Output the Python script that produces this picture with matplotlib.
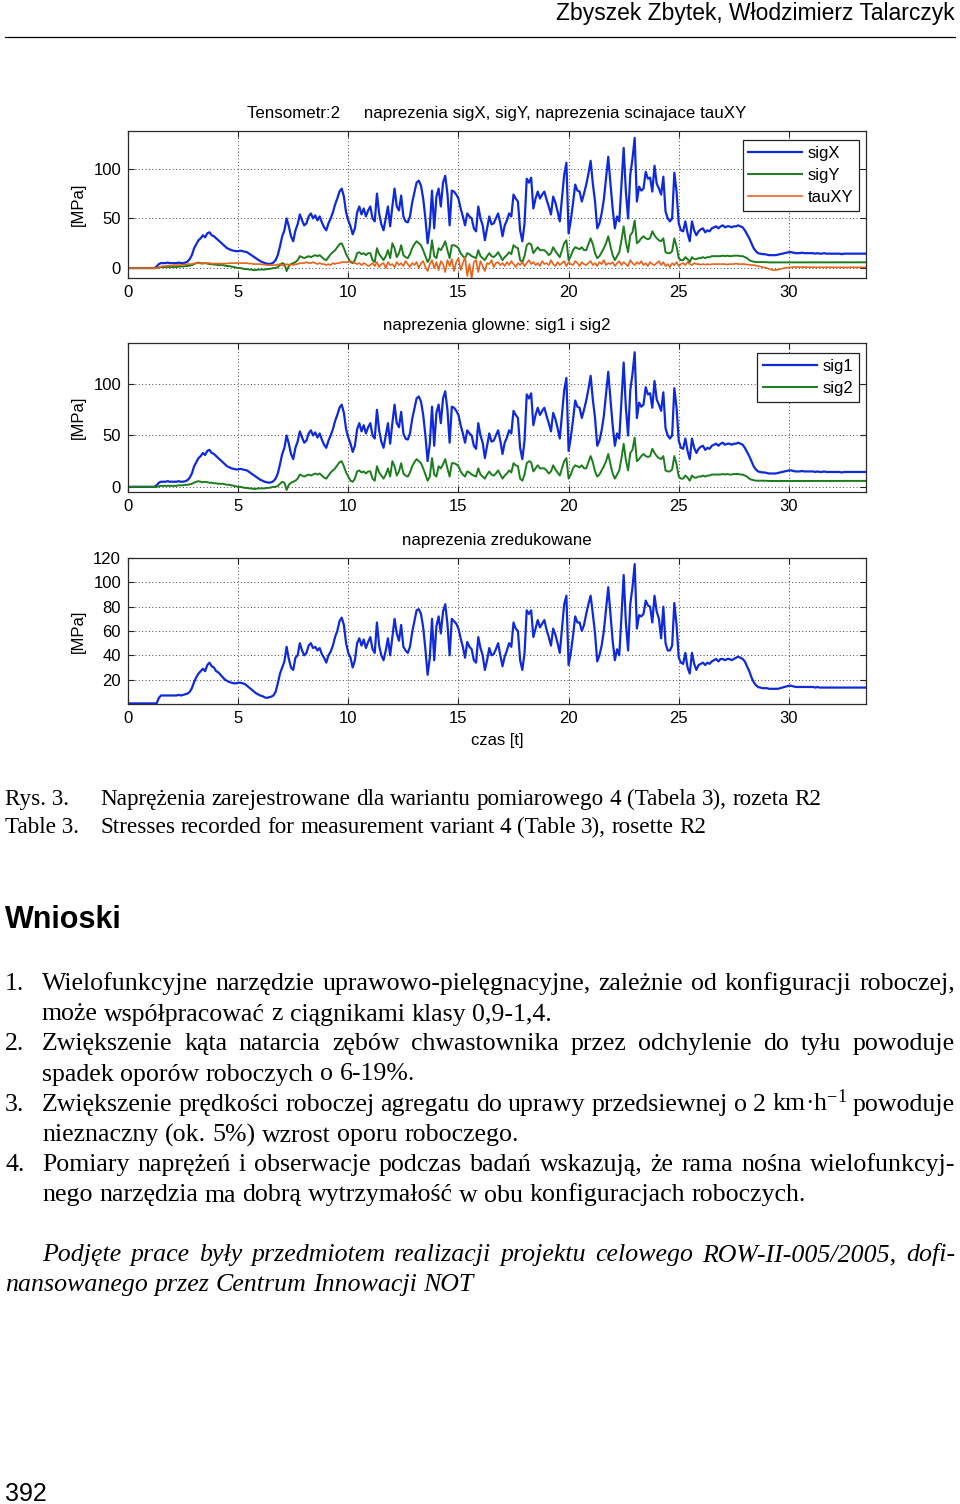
import numpy as np
import matplotlib
matplotlib.use('Agg')
import matplotlib.pyplot as plt
from matplotlib.lines import Line2D

# ---------------- data (0.1 s sampling) ----------------
dt = 0.1
xticks = [0, 5, 10, 15, 20, 25, 30]

sigX = [
    0, 0, 0, 0, 0, 0, 0, 0, 0, 0,
    0, 0, 0, 1.5, 4, 5, 5, 5, 5.5, 5,
    5, 5, 5, 5.5, 5, 5, 5.5, 6.5, 9, 13,
    20, 24, 28, 30, 33, 31, 35, 36, 33, 32,
    30, 28, 26, 24, 22, 20, 19, 18, 17.5, 17,
    17, 17.5, 17, 16.5, 16, 14.5, 13, 11.5, 10, 8.5,
    7, 6, 5, 4.5, 4, 4.5, 5.5, 8, 13, 22,
    32, 38, 50, 42, 32, 27, 38, 44, 54, 48,
    43, 45, 52, 55, 50, 53, 48, 52, 46, 41,
    38, 45, 50, 56, 64, 70, 77, 80, 72, 56,
    48, 42, 34, 40, 56, 62, 54, 60, 52, 58,
    62, 50, 47, 75, 55, 44, 38, 50, 62, 42,
    62, 80, 62, 58, 73, 52, 47, 46, 52, 66,
    76, 86, 88, 83, 70, 50, 25, 42, 78, 40,
    72, 80, 62, 86, 93, 75, 43, 78, 77, 74,
    70, 60, 52, 43, 55, 52, 50, 40, 37, 62,
    50, 43, 28, 40, 52, 44, 45, 50, 55, 45,
    32, 43, 48, 55, 52, 74, 70, 67, 38, 27,
    45, 90, 86, 91, 60, 70, 77, 70, 74, 77,
    69, 62, 54, 72, 66, 57, 47, 70, 94, 106,
    35, 48, 65, 84, 78, 77, 67, 75, 84, 95,
    108, 85, 67, 40, 45, 55, 69, 90, 112, 85,
    60, 40, 52, 47, 84, 121, 77, 50, 94, 110,
    131, 67, 82, 78, 80, 97, 90, 91, 77, 103,
    85, 80, 74, 92, 57, 50, 47, 50, 96, 77,
    45, 38, 37, 47, 35, 27, 47, 38, 33, 37,
    39, 40, 36, 38, 37, 40, 41, 42, 40, 42,
    43, 41, 42, 42, 41, 42, 42, 43, 42, 41,
    38, 34, 30, 25, 20, 17, 15, 14.5, 14, 14,
    13.5, 13, 13, 13, 13, 13.5, 14, 14.5, 15, 15.5,
    16, 16, 15.5, 15, 15, 15, 15.5, 15, 15, 15,
    15, 15, 14.5, 15, 14.5, 14.5, 15, 14.5, 14.5, 14.5,
    14.5, 14.5, 14.5, 14.5, 14, 14.5, 14.5, 14.5, 14.5, 14.5,
    14.5, 14.5, 14.5, 14.5, 14.5, 14.5,
]

sigY = [
    0, 0, 0, 0, 0, 0, 0, 0, 0, 0,
    0, 0, 0, 0, 0.5, 1, 1, 1, 1, 1,
    1, 1, 1, 1.5, 1.5, 1.5, 2, 2, 2.5, 3,
    4, 5, 5.5, 5, 4.5, 5, 4.5, 4, 4, 3.5,
    3.5, 3, 3, 3, 2.5, 2, 2, 1.5, 1, 0.5,
    0, 0, -0.5, -1, -1, -1.5, -1.5, -2, -2, -1.5,
    -1.5, -1.5, -1.5, -1, -1, -0.5, 0, 0, 1, 3,
    5, 4, -3, 2, 4, 5, 6, 8, 12, 11,
    10, 11, 12, 11, 12, 13, 12, 13, 11, 9,
    8, 11, 14, 16, 18, 21, 24, 25, 20, 14,
    10, 6, 5, 8, 15, 16, 14, 15, 13, 15,
    15, 8, 6, 20, 14, 11, 8, 12, 18, 10,
    25, 20, 11, 15, 23, 13, 11, 10, 14, 20,
    24, 27, 25, 23, 18, 12, 6, 10, 28, 12,
    10, 20, 18, 22, 27, 18, 10, 23, 23, 22,
    20, 15, 12, 10, 15, 14, 12, 11, 10, 18,
    12, 10, 8, 12, 15, 12, 11, 13, 16, 12,
    8, 11, 13, 16, 14, 23, 21, 20, 8, 6,
    12, 23, 25, 24, 15, 18, 21, 18, 18, 18,
    16, 13, 15, 21, 17, 14, 11, 18, 25, 28,
    8, 12, 18, 21, 20, 19, 21, 18, 18, 24,
    30, 24, 15, 10, 12, 16, 20, 25, 32, 22,
    13, 8, 12, 16, 28, 42, 26, 16, 33, 36,
    48, 25, 27, 30, 32, 30, 29, 30, 37, 33,
    30, 28, 27, 30, 16, 15, 15, 17, 30, 22,
    10, 8, 8, 11, 9, 6, 11, 9, 9, 10,
    10, 11, 10, 11, 11, 12, 12, 12, 12, 12,
    12.5, 12, 12.5, 12, 12, 12.5, 12.5, 12.5, 12, 12,
    11, 10, 8, 7, 6.5, 6, 6, 6, 6, 6,
    5.8, 5.7, 5.7, 5.6, 5.6, 5.6, 5.7, 5.7, 5.8, 5.8,
    5.8, 5.8, 5.8, 5.8, 5.8, 5.7, 5.8, 5.8, 5.8, 5.8,
    5.8, 5.8, 5.7, 5.8, 5.8, 5.8, 5.8, 5.7, 5.8, 5.8,
    5.8, 5.8, 5.8, 5.8, 5.7, 5.8, 5.8, 5.8, 5.8, 5.8,
    5.8, 5.8, 5.8, 5.8, 5.8, 5.8,
]

tauXY = [
    0, 0, 0, 0, 0, 0, 0, 0, 0, 0,
    0, 0, 0, 0, 0.5, 1.5, 2, 2, 2.5, 2.5,
    2.5, 3, 3, 3, 3, 3.5, 3.5, 4, 4, 4,
    4.5, 5, 5, 4.5, 5, 5, 5, 5, 4.5, 4.5,
    4.5, 4.5, 4.5, 4.5, 4.5, 4.5, 5, 5, 5, 5,
    5, 5, 5, 5, 5, 4.5, 4.5, 4, 4, 4,
    4, 3.5, 3.5, 3, 3, 3, 3, 3, 3.5, 4,
    3, 2, 4, 3, 4, 3, 4, 4, 5, 5,
    5, 6, 5, 5, 6, 5, 4, 5, 4, 4,
    3, 4, 3, 5, 4, 5, 5, 6, 6, 6,
    6, 7, 6, 5, 4, 5, 3, 5, 4, 2,
    3, 5, 2, 6, 1, 4, 5, 0, 6, 3,
    4, 1, 6, 3, 5, 2, 7, 4, 1, 5,
    3, 6, 0, 5, 7, 1, -3, 4, 8, 0,
    6, -2, 7, 4, -4, 8, 2, 9, -3, 6,
    10, -2, 5, 11, -8, 4, -10, 6, 8, -4,
    7, 2, -3, 5, 4, 8, 1, 5, 6, 3,
    5, 2, 6, 3, 7, 4, 1, 5, 3, 6,
    2, 5, 8, 4, 6, 3, 5, 2, 7, 4,
    5, 3, 8, 4, 2, 6, 3, 5, 7, 2,
    6, 4, 3, 7, 5, 2, 6, 4, 3, 5,
    7, 3, 5, 2, 6, 4, 8, 3, 5, 4,
    6, 2, 5, 7, 3, 6, 4, 2, 8, 5,
    3, 6, 4, 7, 3, 5, 2, 6, 4, 3,
    5, 7, 3, 6, 2, 4, 1, 5, 3, 6,
    2, 4, 5, 3, 6, 4, 3, 5, 4, 4,
    3.5, 4, 3.5, 4, 3.5, 4, 4, 4, 4, 4,
    4, 4, 3.5, 4, 4, 4, 4.5, 4, 4, 4,
    4, 3.5, 3.5, 3, 3, 2.5, 2, 1.5, 1, 0.5,
    0, -1, -1.5, -2, -2, -1.5, -1, -0.5, 0, 0.5,
    0.5, 0.8, 1, 1, 1, 0.8, 1, 1, 0.8, 0.8,
    0.8, 0.8, 0.7, 0.8, 0.8, 0.7, 0.7, 0.8, 0.7, 0.7,
    0.7, 0.7, 0.7, 0.7, 0.7, 0.7, 0.6, 0.7, 0.7, 0.7,
    0.7, 0.7, 0.7, 0.7, 0.7, 0.7,
]

# principal stresses: in the picture they coincide with sigX / sigY
sig1 = sigX
sig2 = sigY

sigRed = [
    0.5, 0.5, 0.5, 0.5, 0.5, 0.5, 0.5, 0.5, 0.5, 0.5,
    0.5, 0.5, 0.5, 0.5, 5, 7, 7, 7, 7, 7,
    7, 7, 7, 7.5, 7, 7.5, 8, 8.5, 10, 13,
    18, 22, 25, 27, 29, 27, 32, 34, 31, 30,
    27, 26, 24, 22, 20, 19, 18, 17.5, 17, 17,
    17.5, 17.5, 17, 16.5, 15, 13.5, 12, 10.5, 9, 8,
    7, 6.5, 5.5, 5, 5.5, 6, 7, 10, 17, 25,
    30, 35, 47, 37, 30, 28, 38, 40, 50, 44,
    40, 42, 48, 50, 46, 47, 44, 46, 41, 38,
    34, 40, 43, 48, 55, 60, 68, 71, 65, 50,
    42, 38, 30, 36, 50, 54, 48, 53, 46, 51,
    55, 45, 42, 67, 48, 40, 36, 44, 54, 40,
    55, 70, 58, 52, 65, 47, 44, 42, 47, 59,
    68, 77, 78, 74, 63, 45, 24, 38, 70, 36,
    64, 72, 58, 76, 82, 66, 40, 70, 68, 66,
    62, 54, 47, 38, 51, 47, 45, 36, 34, 55,
    46, 40, 28, 36, 46, 40, 41, 45, 50, 40,
    31, 39, 44, 50, 47, 67, 62, 60, 36, 28,
    42, 77, 74, 77, 55, 62, 69, 63, 66, 69,
    61, 55, 48, 62, 57, 50, 42, 62, 82, 89,
    32, 42, 56, 72, 67, 67, 60, 65, 74, 82,
    89, 74, 58, 35, 40, 48, 60, 78, 96, 74,
    52, 36, 45, 40, 72, 106, 67, 44, 82, 96,
    115, 62, 73, 72, 74, 85, 81, 80, 67, 89,
    76, 70, 54, 80, 50, 44, 44, 48, 83, 65,
    38, 34, 33, 42, 30, 25, 42, 33, 28, 32,
    33, 34, 32, 34, 33, 35, 36, 37, 35, 37,
    37, 36, 37, 37, 36, 37, 38, 39, 38, 37,
    35, 31, 27, 22, 18, 15.5, 14, 13.5, 13, 13,
    13, 12.5, 12.5, 12.5, 12.5, 12.5, 13, 13.5, 14, 14.5,
    15, 15, 14.5, 14, 14, 14, 14, 14, 14, 14,
    14, 14, 13.5, 14, 13.5, 13.5, 13.5, 13.5, 13.5, 13.5,
    13.5, 13.5, 13.5, 13.5, 13.5, 13.5, 13.5, 13.5, 13.5, 13.5,
    13.5, 13.5, 13.5, 13.5, 13.5, 13.5,
]

# ---------------- figure ----------------
W, H = 960, 1504
plt.rcParams['font.family'] = ['Liberation Sans', 'DejaVu Sans']
plt.rcParams['mathtext.default'] = 'regular'

fig = plt.figure(figsize=(W / 100, H / 100), dpi=100)
fig.patch.set_facecolor('white')

BLUE = '#0f2ad8'
GREEN = '#1b7d1b'
ORANGE = '#e8621a'
FS = 12
TFS = 12.2


def rect(l, t, r, b):
    return [l / W, 1 - b / H, (r - l) / W, (b - t) / H]


def tt(series):
    return np.arange(len(series)) * dt


def style(ax, ylim, yticks):
    ax.set_xlim(0, 33.5)
    ax.set_ylim(*ylim)
    ax.set_xticks(xticks)
    ax.set_yticks(yticks)
    ax.grid(True, color='#444444', linewidth=0.7, linestyle=(0, (1, 2.5)))
    ax.tick_params(direction='in', top=True, right=True, length=4, width=0.8,
                   labelsize=FS, pad=5, color='#222222', labelcolor='black')
    for s in ax.spines.values():
        s.set_color('#2a2a2a')
        s.set_linewidth(0.9)
    ax.set_ylabel('[MPa]', fontsize=FS)
    ax.yaxis.set_label_coords(-0.057, 0.5)


def legend(ax, anchor):
    leg = ax.legend(loc='upper right', bbox_to_anchor=anchor, fontsize=FS,
                    frameon=True, fancybox=False, edgecolor='#222222',
                    framealpha=1, borderaxespad=0, handlelength=3.2,
                    handletextpad=0.35, labelspacing=0.42, borderpad=0.35)
    leg.get_frame().set_linewidth(0.9)


ax1 = fig.add_axes(rect(128, 131, 866, 278))
ax1.plot(tt(sigX), sigX, color=BLUE, lw=1.6, label='sigX')
ax1.plot(tt(sigY), sigY, color=GREEN, lw=1.4, label='sigY')
ax1.plot(tt(tauXY), tauXY, color=ORANGE, lw=1.2, label='tauXY')
style(ax1, (-10, 138), [0, 50, 100])
ax1.set_title('Tensometr:2     naprezenia sigX, sigY, naprezenia scinajace tauXY',
              fontsize=TFS, pad=9.5)
legend(ax1, (0.9905, 0.9388))

ax2 = fig.add_axes(rect(128, 343, 866, 492))
ax2.plot(tt(sig1), sig1, color=BLUE, lw=1.6, label='sig1')
ax2.plot(tt(sig2), sig2, color=GREEN, lw=1.4, label='sig2')
style(ax2, (-5, 140), [0, 50, 100])
ax2.set_title('naprezenia glowne: sig1 i sig2', fontsize=TFS, pad=9.5)
legend(ax2, (0.9905, 0.933))

ax3 = fig.add_axes(rect(128, 558, 866, 704))
ax3.plot(tt(sigRed), sigRed, color=BLUE, lw=1.6)
style(ax3, (0, 120), [20, 40, 60, 80, 100, 120])
ax3.set_title('naprezenia zredukowane', fontsize=TFS, pad=9.5)
ax3.set_xlabel('czas [t]', fontsize=FS)
ax3.xaxis.set_label_coords(0.5, -0.2)

# ---------------- page text ----------------
renderer = fig.canvas.get_renderer()
SERIF = ['Liberation Serif', 'DejaVu Serif']
SANS = ['Liberation Sans', 'DejaVu Sans']


def put(x, yb, s, **kw):
    return fig.text(x / W, 1 - yb / H, s, va='baseline', **kw)


def width_of(s, **kw):
    t = fig.text(0, 0, s, **kw)
    w = t.get_window_extent(renderer).width
    t.remove()
    return w


def put_line(s, x0, x1, yb, justify, **kw):
    words = s.split(' ')
    ws = [width_of(w, **kw) for w in words]
    if justify and len(words) > 1:
        gap = (x1 - x0 - sum(ws)) / (len(words) - 1)
    else:
        gap = width_of('a a', **kw) - width_of('aa', **kw)
    x = x0
    for w, wd in zip(words, ws):
        put(x, yb, w, ha='left', **kw)
        x += wd + gap


put(955, 20, 'Zbyszek Zbytek, Włodzimierz Talarczyk', ha='right',
    fontsize=16.5, family=SANS)
fig.add_artist(Line2D([5 / W, 955 / W], [1 - 37 / H, 1 - 37 / H],
                      color='black', lw=0.9, transform=fig.transFigure))

cap = dict(fontsize=16.7, family=SERIF)
put(5, 805, 'Rys. 3.', ha='left', **cap)
put_line('Naprężenia zarejestrowane dla wariantu pomiarowego 4 (Tabela 3), rozeta R2',
         100, 955, 805, False, **cap)
put(5, 833, 'Table 3.', ha='left', **cap)
put_line('Stresses recorded for measurement variant 4 (Table 3), rosette R2',
         100, 955, 833, False, **cap)

put(5, 928, 'Wnioski', ha='left', fontsize=22, fontweight='bold', family=SANS)

body = dict(fontsize=18.6, family=SERIF)
items = [
    ('1.', 'Wielofunkcyjne narzędzie uprawowo-pielęgnacyjne, zależnie od konfiguracji roboczej,',
     'może współpracować z ciągnikami klasy 0,9-1,4.', 990),
    ('2.', 'Zwiększenie kąta natarcia zębów chwastownika przez odchylenie do tyłu powoduje',
     'spadek oporów roboczych o 6-19%.', 1050),
    ('3.', 'Zwiększenie prędkości roboczej agregatu do uprawy przedsiewnej o 2 km·h$^{-1}$ powoduje',
     'nieznaczny (ok. 5%) wzrost oporu roboczego.', 1111),
    ('4.', 'Pomiary naprężeń i obserwacje podczas badań wskazują, że rama nośna wielofunkcyj-',
     'nego narzędzia ma dobrą wytrzymałość w obu konfiguracjach roboczych.', 1171),
]
for num, l1, l2, yb in items:
    put(5, yb, num, ha='left', **body)
    put_line(l1, 42, 955, yb, True, **body)
    put_line(l2, 42, 955, yb + 30.5, False, **body)

ital = dict(fontsize=18.6, family=SERIF, style='italic')
put_line('Podjęte prace były przedmiotem realizacji projektu celowego ROW-II-005/2005, dofi-',
         42, 955, 1261, True, **ital)
put_line('nansowanego przez Centrum Innowacji NOT', 5, 955, 1291, False, **ital)

put(5, 1501, '392', ha='left', fontsize=18, family=SANS)

fig.savefig('out.png', dpi=100, facecolor='white')
